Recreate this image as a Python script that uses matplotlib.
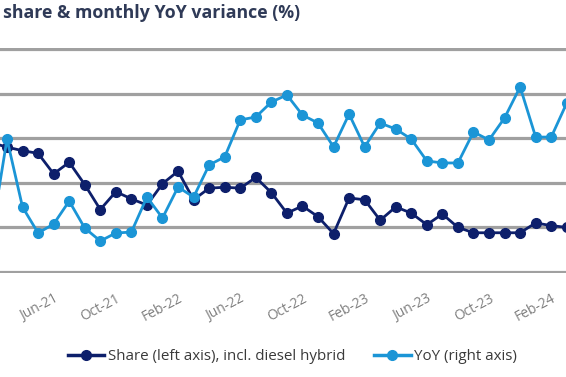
import numpy as np
import matplotlib
matplotlib.use("Agg")
import matplotlib.pyplot as plt
from matplotlib.lines import Line2D


# Data (Feb-21 .. Mar-24, monthly)
months = ["Feb-21", "Mar-21", "Apr-21", "May-21", "Jun-21", "Jul-21", "Aug-21", "Sep-21",
          "Oct-21", "Nov-21", "Dec-21", "Jan-22", "Feb-22", "Mar-22", "Apr-22", "May-22",
          "Jun-22", "Jul-22", "Aug-22", "Sep-22", "Oct-22", "Nov-22", "Dec-22", "Jan-23",
          "Feb-23", "Mar-23", "Apr-23", "May-23", "Jun-23", "Jul-23", "Aug-23", "Sep-23",
          "Oct-23", "Nov-23", "Dec-23", "Jan-24", "Feb-24", "Mar-24"]

share = [24.5, 24.0, 23.6, 23.3, 21.0, 22.3, 19.8, 17.0,
         19.0, 18.2, 17.5, 19.9, 21.3, 18.1, 19.4, 19.5,
         19.4, 20.6, 18.9, 16.6, 17.4, 16.2, 14.3, 18.3,
         18.1, 15.8, 17.3, 16.6, 15.3, 16.5, 15.0, 14.4,
         14.4, 14.4, 14.4, 15.5, 15.2, 15.0]

yoy = [-23.4, 19.6, -10.9, -22.5, -18.5, -8.2, -20.3, -26.1,
       -22.5, -22.1, -6.4, -15.8, -1.9, -6.4, 8.0, 11.6,
       28.2, 29.5, 36.2, 39.4, 30.4, 26.8, 16.1, 30.8,
       16.1, 26.8, 24.1, 19.6, 9.8, 8.9, 8.9, 22.8,
       19.2, 29.1, 43.0, 20.5, 20.5, 35.8]

tick_labels = ["Jun-21", "Oct-21", "Feb-22", "Jun-22", "Oct-22",
               "Feb-23", "Jun-23", "Oct-23", "Feb-24"]

dark = "#0d1f6b"
light = "#1b95d6"
grid_col = "#a0a0a0"

plt.rcParams["font.family"] = ["Open Sans", "DejaVu Sans"]

W, H = 566, 377
fig = plt.figure(figsize=(W / 100, H / 100), dpi=100)
top_px, bot_px = 48.1, 272.9
ax = fig.add_axes([0, 1 - bot_px / H, 1, (bot_px - top_px) / H])
ax2 = ax.twinx()

x = np.arange(len(months))

ax.plot(x, share, "-o", color=dark, lw=2.0, ms=7, zorder=3)
ax2.plot(x, yoy, "-o", color=light, lw=2.0, ms=7, zorder=4)

ax.set_xlim(0.55, 36.95)
ax.set_ylim(9.9, 35.1)
ax2.set_ylim(-40.4, 60.4)
ax.set_yticks([10, 15, 20, 25, 30, 35])
ax.grid(axis="y", color=grid_col, lw=2.3)
ax.set_axisbelow(True)
ax.tick_params(left=False, labelleft=False, bottom=False, length=0)
ax2.tick_params(right=False, labelright=False)
ax2.set_yticks([])

for a in (ax, ax2):
    for s in a.spines.values():
        s.set_visible(False)

ticks = [months.index(t) for t in tick_labels]
ax.set_xticks(ticks)
ax.set_xticklabels(tick_labels, rotation=28, ha="right", rotation_mode="anchor",
                   color="#7f7f7f", fontsize=10)
ax.tick_params(axis="x", pad=13)

fig.text(0.005, 0.966, "share & monthly YoY variance (%)", fontsize=12.8,
         fontweight="bold", color="#2f3a57", ha="left", va="center")

handles = [Line2D([], [], color=dark, lw=2.5, marker="o", ms=7),
           Line2D([], [], color=light, lw=2.5, marker="o", ms=7)]
fig.legend(handles, ["Share (left axis), incl. diesel hybrid", "YoY (right axis)"],
           loc="center", bbox_to_anchor=(0.517, 1 - 357 / H), ncol=2, frameon=False,
           fontsize=10.9, handlelength=2.4, handletextpad=0.25, columnspacing=1.9,
           labelcolor="#3a3a3a")

fig.savefig("out.png", dpi=100)
